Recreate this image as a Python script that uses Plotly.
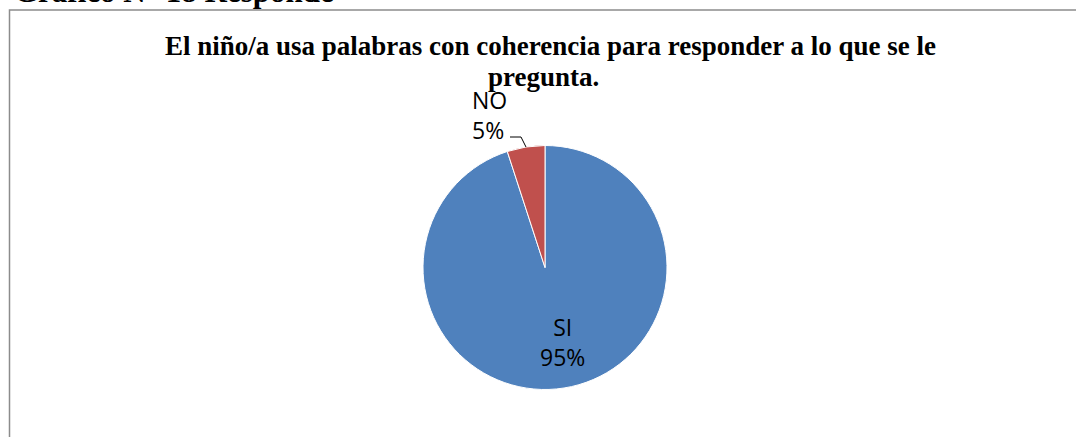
import plotly.graph_objects as go

W, H = 1076, 437

categories = ["SI", "NO"]
values = [95, 5]
colors = ["#4F81BD", "#C0504D"]
title_lines = ["El niño/a usa palabras con coherencia para responder a lo que se le", "pregunta."]
heading_text = "Gráfico N° 18 Responde"

def px(x):
    return x / W

def py(y):
    return 1 - y / H

cx, cy, r = 545, 267.5, 122

fig = go.Figure(go.Pie(
    labels=categories,
    values=values,
    sort=False,
    direction="clockwise",
    rotation=0,
    marker=dict(colors=colors, line=dict(color="white", width=1)),
    textinfo="none",
    hoverinfo="label+percent",
    showlegend=False,
    domain=dict(x=[px(cx - r), px(cx + r)], y=[py(cy + r), py(cy - r)]),
))

total = sum(values)
label_font = dict(family="Open Sans, Liberation Sans, sans-serif", size=23, color="#000000")
serif = "Liberation Serif, Times New Roman, serif"

annotations = [
    dict(text="<b>" + heading_text + "</b>", x=px(12), y=py(-8.5), xref="paper", yref="paper",
         xanchor="left", yanchor="middle", showarrow=False,
         font=dict(family=serif, size=31, color="black")),
    dict(text="<b>" + title_lines[0] + "</b>", x=px(550), y=py(45.5), xref="paper", yref="paper",
         xanchor="center", yanchor="middle", showarrow=False,
         font=dict(family=serif, size=27, color="black")),
    dict(text="<b>" + title_lines[1] + "</b>", x=px(543.5), y=py(77), xref="paper", yref="paper",
         xanchor="center", yanchor="middle", showarrow=False,
         font=dict(family=serif, size=27, color="black")),
    dict(text=f"{categories[1]}<br>{round(values[1] / total * 100)}%", x=px(489), y=py(115),
         xref="paper", yref="paper", xanchor="center", yanchor="middle", showarrow=False,
         align="left", font=label_font),
    dict(text=f"{categories[0]}<br>{round(values[0] / total * 100)}%", x=px(562), y=py(342),
         xref="paper", yref="paper", xanchor="center", yanchor="middle", showarrow=False,
         font=label_font),
]

shapes = [
    dict(type="rect", xref="paper", yref="paper", x0=px(9.5), x1=px(W + 20), y0=py(H + 20), y1=py(10),
         line=dict(color="#8c8c8c", width=1.5), fillcolor="rgba(0,0,0,0)"),
    dict(type="path", xref="paper", yref="paper",
         path=f"M {px(510)} {py(137)} L {px(521)} {py(137)} L {px(526)} {py(147)}",
         line=dict(color="black", width=1)),
]

fig.update_layout(
    width=W, height=H,
    margin=dict(l=0, r=0, t=0, b=0),
    paper_bgcolor="white",
    plot_bgcolor="white",
    annotations=annotations,
    shapes=shapes,
)

fig.write_html("out.html", config={"displayModeBar": False},
               post_script="document.body.style.margin='0px';")
